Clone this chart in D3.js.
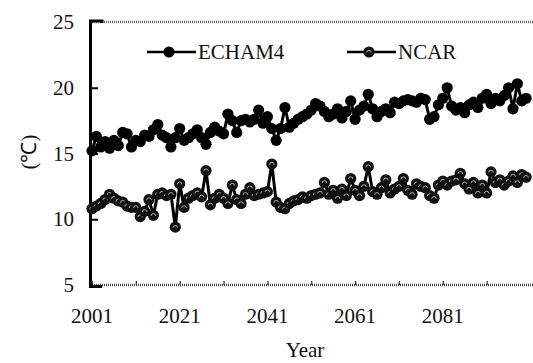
<!DOCTYPE html>
<html>
<head>
<meta charset="utf-8">
<script src="https://d3js.org/d3.v7.min.js"></script>
<style>
body{margin:0;background:#fff;overflow:hidden}
</style>
</head>
<body>
<div id="chart"></div>
<script>
var years = d3.range(2001, 2101)

var echam4 = [15.2, 16.3, 15.5, 15.9, 15.4, 16.0, 15.6, 16.6, 16.5, 15.5,
              16.0, 15.9, 16.4, 16.3, 16.8, 17.2, 16.4, 16.2, 15.5, 16.2,
              16.9, 16.0, 16.2, 16.5, 16.8, 16.2, 15.7, 16.6, 17.0, 16.7,
              16.5, 18.0, 17.5, 16.6, 17.5, 17.6, 17.4, 17.6, 18.3, 17.3,
              17.8, 16.9, 16.0, 16.9, 18.5, 17.0, 17.3, 17.6, 17.8, 18.0,
              18.3, 18.8, 18.6, 18.2, 17.8, 18.0, 18.4, 17.7, 18.2, 19.0,
              17.6, 18.3, 18.6, 19.5, 18.4, 17.8, 18.2, 18.4, 18.1, 18.9,
              18.8, 19.0, 19.1, 19.0, 18.9, 19.2, 19.1, 17.6, 17.8, 18.7,
              19.2, 20.0, 18.6, 18.3, 18.5, 18.1, 18.7, 18.9, 18.5, 19.2,
              19.5, 18.8, 19.2, 19.0, 19.4, 20.0, 18.4, 20.3, 19.0, 19.2]

var ncar = [10.8, 11.0, 11.2, 11.5, 11.9, 11.6, 11.4, 11.3, 11.0, 10.9,
            10.9, 10.2, 10.6, 11.5, 10.3, 11.9, 12.0, 11.8, 11.9, 9.4,
            12.7, 10.9, 11.6, 11.8, 12.0, 11.7, 13.7, 11.1, 11.6, 11.9,
            11.6, 11.2, 12.6, 11.5, 11.2, 11.9, 12.4, 11.8, 11.9, 12.0,
            12.1, 14.2, 11.3, 10.9, 10.8, 11.2, 11.4, 11.5, 11.7, 11.6,
            11.8, 11.9, 12.0, 12.8, 11.9, 12.2, 11.6, 12.3, 11.8, 13.1,
            12.2, 11.8, 12.5, 14.0, 12.1, 11.9, 12.4, 13.0, 12.0, 12.3,
            12.5, 13.1, 12.2, 11.9, 12.7, 12.5, 12.4, 11.8, 11.6, 12.6,
            12.9, 12.6, 12.9, 13.0, 13.5, 12.7, 12.3, 12.8, 12.0, 12.6,
            12.0, 13.6, 12.8, 13.0, 12.6, 12.9, 13.3, 12.8, 13.4, 13.2]

var yTicks = [5, 10, 15, 20, 25]
var xTickLabels = [2001, 2021, 2041, 2061, 2081]
var xMinorTicks = d3.range(2001, 2101, 10)

var serif = "'Liberation Serif', 'Times New Roman', Times, serif"

var margin = {top: 22, left: 92},
    width = 110 * 4.385,
    height = 263;

var svg = d3.select("#chart")
.append("svg")
.attr("width", 533)
.attr("height", 363)
.attr("font-family", serif)

var g = svg.append("g")
.attr("transform", "translate(" + margin.left + "," + margin.top + ")");

var x = d3.scaleLinear()
.domain([2001, 2111])
.range([0, width])

var y = d3.scaleLinear()
.domain([5, 25])
.range([height, 0])

//frame: dotted top and bottom, thick left
g.append("line")
.attr("x1", 0).attr("x2", width)
.attr("y1", 0).attr("y2", 0)
.attr("stroke", "#666")
.attr("stroke-width", 2.5)
.attr("stroke-dasharray", "1,1")
g.append("line")
.attr("x1", 0).attr("x2", width)
.attr("y1", height).attr("y2", height)
.attr("stroke", "#444")
.attr("stroke-width", 2.5)
.attr("stroke-dasharray", "1,1")
g.append("path")
.attr("d", "M10,1V-1H-1.5V" + (height + 1.5) + "H10")
.attr("fill", "none")
.attr("stroke", "#000")
.attr("stroke-width", 3)

//add X
var xAxis = g.append("g")
.attr("transform", "translate(0," + height + ")")
.call(d3.axisTop(x).tickValues(xMinorTicks).tickSize(4).tickFormat(""))
xAxis.select(".domain").remove()
xAxis.selectAll("line").attr("stroke", "#333").attr("stroke-width", 1.2)

g.append("g")
.selectAll("text")
.data(xTickLabels)
.enter()
.append("text")
.attr("x", function(d){return x(d)})
.attr("y", height + 38)
.attr("text-anchor", "middle")
.style("font-family", serif)
.style("font-size", "21px")
.attr("fill", "#111")
.text(function(d){return d})

//add y
var yAxis = g.append("g")
.call(d3.axisRight(y).tickValues([10, 15, 20]).tickSize(6).tickFormat(""))
yAxis.select(".domain").remove()
yAxis.selectAll("line").attr("stroke", "#000").attr("stroke-width", 2)

g.append("g")
.selectAll("text")
.data(yTicks)
.enter()
.append("text")
.attr("x", -18)
.attr("y", function(d){return y(d) + 7})
.attr("text-anchor", "end")
.style("font-family", serif)
.style("font-size", "21px")
.attr("fill", "#111")
.text(function(d){return d})

//lines
var line = d3.line()
.x(function(d, i){return x(years[i])})
.y(function(d){return y(d)})

g.append("path")
.datum(echam4)
.attr("d", line)
.attr("fill", "none")
.attr("stroke", "#000")
.attr("stroke-width", 3)

g.append("path")
.datum(ncar)
.attr("d", line)
.attr("fill", "none")
.attr("stroke", "#000")
.attr("stroke-width", 3)

//markers
var drawEcham = function(sel){
  sel.append("circle").attr("r", 5.6).attr("fill", "#000")
}
var drawNcar = function(sel){
  sel.append("circle").attr("r", 5.6).attr("fill", "#111")
  sel.append("path")
  .attr("d", "M-2.3,0.6A2.3,2.3 0 0 1 2.3,0.6")
  .attr("fill", "none")
  .attr("stroke", "#bbb")
  .attr("stroke-width", 0.9)
}

g.append("g")
.selectAll("g")
.data(echam4)
.enter()
.append("g")
.attr("transform", function(d, i){return "translate(" + x(years[i]) + "," + y(d) + ")"})
.call(drawEcham)

g.append("g")
.selectAll("g")
.data(ncar)
.enter()
.append("g")
.attr("transform", function(d, i){return "translate(" + x(years[i]) + "," + y(d) + ")"})
.call(drawNcar)

//legend
var legend = svg.append("g")
var items = [{name: "ECHAM4", x: 147, draw: drawEcham}, {name: "NCAR", x: 347, draw: drawNcar}]
items.forEach(function(item){
  legend.append("line")
  .attr("x1", item.x).attr("x2", item.x + 49)
  .attr("y1", 52).attr("y2", 52)
  .attr("stroke", "#000")
  .attr("stroke-width", 2.5)
  legend.append("g")
  .attr("transform", "translate(" + (item.x + 22) + ",52)")
  .call(item.draw)
  legend.append("text")
  .attr("x", item.x + 51)
  .attr("y", 59)
  .style("font-family", serif)
  .style("font-size", "21px")
  .attr("fill", "#111")
  .text(item.name)
})

//axis titles
svg.append("text")
.attr("x", 305)
.attr("y", 357)
.attr("text-anchor", "middle")
.style("font-family", serif)
.style("font-size", "21px")
.attr("fill", "#111")
.text("Year")

svg.append("text")
.attr("transform", "translate(36,152)rotate(-90)")
.attr("text-anchor", "middle")
.style("font-family", serif)
.style("font-size", "21px")
.attr("fill", "#111")
.text("(℃)")
</script>
</body>
</html>
